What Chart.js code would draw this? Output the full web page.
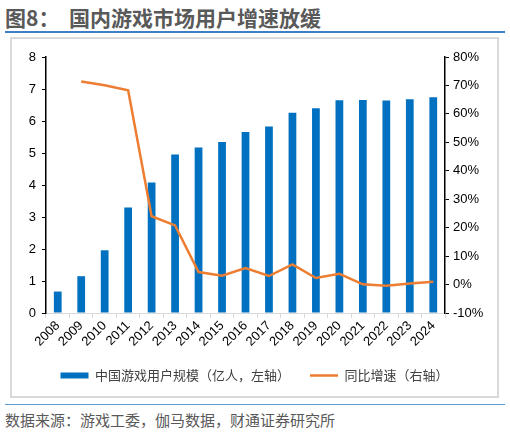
<!DOCTYPE html>
<html>
<head>
<meta charset="utf-8">
<script src="https://cdn.jsdelivr.net/npm/chart.js@4/dist/chart.umd.min.js"></script>
<style>
  html, body { margin: 0; padding: 0; background: #fff; }
  body { width: 510px; height: 435px; position: relative; overflow: hidden;
         font-family: "Liberation Sans", "Noto Sans CJK SC", sans-serif; }
  #title { position: absolute; left: 5px; top: 2px; font-size: 21px; font-weight: bold;
           color: #595959; font-family: "Noto Sans CJK SC", sans-serif; white-space: pre; }
  #topLine { position: absolute; left: 5px; top: 31px; width: 500px; height: 2px; background: #3f7fc8; }
  #box { position: absolute; left: 10px; top: 37px; width: 485px; height: 357px;
         border: 2px solid #d9d9d9; }
  #wrap { position: absolute; left: 0; top: 0; width: 485px; height: 357px; }
  #bottomLine { position: absolute; left: 5px; top: 404px; width: 500px; height: 1px; background: #5b9bd5; }
  #source { position: absolute; left: 5px; top: 409px; font-size: 15px; color: #595959;
            font-family: "Noto Sans CJK SC", sans-serif; }
</style>
</head>
<body>
<div id="title">图8：  国内游戏市场用户增速放缓</div>
<div id="topLine"></div>
<div id="box"><div id="wrap"><canvas id="chart"></canvas></div></div>
<div id="bottomLine"></div>
<div id="source">数据来源：游戏工委，伽马数据，财通证券研究所</div>
<script>
// Data
const years = ['2008', '2009', '2010', '2011', '2012', '2013', '2014', '2015', '2016',
               '2017', '2018', '2019', '2020', '2021', '2022', '2023', '2024'];
const users = [0.67, 1.15, 1.96, 3.30, 4.08, 4.95, 5.17, 5.34, 5.66,
               5.83, 6.26, 6.40, 6.65, 6.66, 6.64, 6.68, 6.74];
const growth = [null, 71.4, 70.1, 68.3, 24.0, 20.8, 4.4, 3.1, 5.8,
                3.0, 7.1, 2.3, 3.8, 0.1, -0.4, 0.4, 1.0];
const leftTicks = [0, 1, 2, 3, 4, 5, 6, 7, 8];
const rightTicks = [-10, 0, 10, 20, 30, 40, 50, 60, 70, 80];

const tickFont = { family: '"Liberation Sans", Arial, sans-serif', size: 13 };

new Chart(document.getElementById('chart'), {
    data: {
        labels: years,
        datasets: [
            {
                type: 'bar',
                label: '中国游戏用户规模（亿人，左轴）',
                data: users,
                backgroundColor: '#0070C0',
                yAxisID: 'y',
                barPercentage: 0.33,
                categoryPercentage: 1.0,
                pointStyle: 'rect',
                order: 2
            },
            {
                type: 'line',
                label: '同比增速（右轴）',
                data: growth,
                borderColor: '#ED7D31',
                backgroundColor: '#ED7D31',
                borderWidth: 2.5,
                pointRadius: 0,
                pointStyle: 'line',
                tension: 0,
                yAxisID: 'y1',
                order: 1
            }
        ]
    },
    options: {
        responsive: true,
        maintainAspectRatio: false,
        animation: false,
        layout: { padding: { top: 18, bottom: 4, left: 0, right: 0 } },
        plugins: {
            tooltip: { enabled: false },
            legend: {
                position: 'bottom',
                labels: {
                    usePointStyle: true,
                    pointStyleWidth: 28,
                    boxHeight: 6,
                    padding: 20,
                    color: '#404040',
                    font: { family: '"Noto Sans CJK SC", sans-serif', size: 13 },
                    sort: (a, b) => a.datasetIndex - b.datasetIndex
                }
            }
        },
        scales: {
            x: {
                offset: true,
                grid: { display: true, drawOnChartArea: false, offset: true,
                        color: '#d9d9d9', tickLength: 5 },
                border: { color: '#d9d9d9', width: 1 },
                ticks: { minRotation: 45, maxRotation: 45, autoSkip: false, color: '#000',
                         font: { family: '"Liberation Sans", Arial, sans-serif', size: 13 },
                         padding: 0 },
                afterFit: s => { s.height = 36; }
            },
            y: {
                position: 'left',
                min: 0, max: 8,
                afterBuildTicks: s => { s.ticks = leftTicks.map(v => ({ value: v })); },
                grid: { drawOnChartArea: false, color: '#000', tickLength: 4 },
                border: { color: '#000', width: 1.5 },
                ticks: { color: '#000', font: tickFont, padding: 6 },
                afterFit: s => { s.width = 34; }
            },
            y1: {
                position: 'right',
                min: -10, max: 80,
                afterBuildTicks: s => { s.ticks = rightTicks.map(v => ({ value: v })); },
                grid: { drawOnChartArea: false, color: '#000', tickLength: 4 },
                border: { color: '#000', width: 1.5 },
                ticks: { color: '#000', font: tickFont, padding: 4, callback: v => v + '%' },
                afterFit: s => { s.width = 52; }
            }
        }
    }
});
</script>
</body>
</html>
